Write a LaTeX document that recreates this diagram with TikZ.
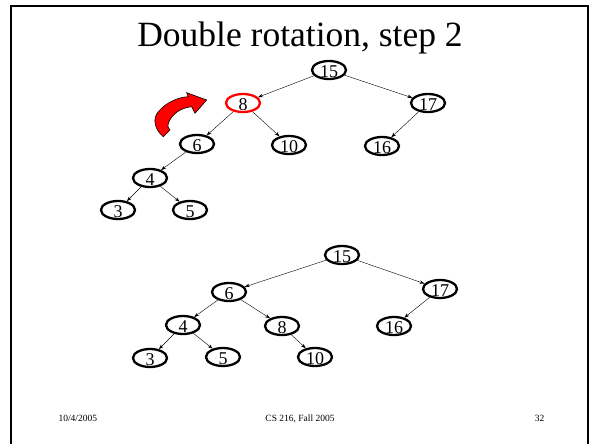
\documentclass[tikz,border=0pt]{standalone}
\usepackage{fontspec}
\setmainfont{Liberation Serif}
\usetikzlibrary{shapes.geometric,arrows.meta}
\newcommand{\lowtxt}[1]{\smash{\raisebox{-1.5pt}{#1}}}
\begin{document}
\begin{tikzpicture}[x=1pt,y=-1pt,
  tnode/.style={ellipse,draw=black,line width=2.3pt,minimum width=34pt,minimum height=18pt,inner sep=0pt,text height=12pt,text depth=0pt,font=\fontsize{18}{18}\selectfont},
  rednode/.style={tnode,draw=red},
  edge/.style={line width=0.4pt,-{Stealth[length=5pt,width=3.5pt]}},
  foot/.style={font=\fontsize{9.5}{10}\selectfont,anchor=base}]
\useasboundingbox (0,0) rectangle (600,444);
% frame
\draw[line width=2pt] (11,444) -- (11,6) -- (588,6) -- (588,444);
% title
\node[font=\fontsize{35.5}{36}\selectfont,anchor=base] (title) at (300,47) {Double rotation, step 2};
% top tree
\node[tnode] (a15) at (329,70) {\lowtxt{15}};
\node[rednode] (a8) at (243,103) {\lowtxt{8}};
\node[tnode] (a17) at (428,103) {\lowtxt{17}};
\node[tnode] (a6) at (197,144) {\lowtxt{6}};
\node[tnode] (a10) at (289,145) {\lowtxt{10}};
\node[tnode] (a16) at (382,146) {\lowtxt{16}};
\node[tnode] (a4) at (150,178) {\lowtxt{4}};
\node[tnode] (a3) at (118,210) {\lowtxt{3}};
\node[tnode] (a5) at (190,210) {\lowtxt{5}};
\draw[edge] (a15) -- (a8);
\draw[edge] (a15) -- (a17);
\draw[edge] (a8) -- (a6);
\draw[edge] (a8) -- (a10);
\draw[edge] (a17) -- (a16);
\draw[edge] (a6) -- (a4);
\draw[edge] (a4) -- (a3);
\draw[edge] (a4) -- (a5);
% red curved arrow
\draw[fill=red,draw=black,line width=0.6pt]
  (163.3,136.7) .. controls (155,130) and (151,118) .. (160,110)
  .. controls (166,103) and (178,97) .. (188.3,96.7)
  -- (186.7,92.7) -- (206.7,100) -- (195,113.3) -- (191.7,106.7)
  .. controls (180,108) and (172,114) .. (168.3,123.3)
  .. controls (167,126) and (168,128) .. (170,130) -- cycle;
% bottom tree
\node[tnode] (b15) at (342,255) {\lowtxt{15}};
\node[tnode] (b6) at (229,292) {\lowtxt{6}};
\node[tnode] (b17) at (440,289) {\lowtxt{17}};
\node[tnode] (b4) at (183,325) {\lowtxt{4}};
\node[tnode] (b8) at (282,326) {\lowtxt{8}};
\node[tnode] (b16) at (394,326) {\lowtxt{16}};
\node[tnode] (b3) at (150,358) {\lowtxt{3}};
\node[tnode] (b5) at (223,357) {\lowtxt{5}};
\node[tnode] (b10) at (315,357) {\lowtxt{10}};
\draw[edge] (b15) -- (b6);
\draw[edge] (b15) -- (b17);
\draw[edge] (b6) -- (b4);
\draw[edge] (b6) -- (b8);
\draw[edge] (b17) -- (b16);
\draw[edge] (b4) -- (b3);
\draw[edge] (b4) -- (b5);
\draw[edge] (b8) -- (b10);
% footer
\node[foot,anchor=base west] (date) at (55,421) {10/4/2005};
\node[foot] (course) at (300,421) {CS 216, Fall 2005};
\node[foot,anchor=base east] (page) at (548,421) {32};
\end{tikzpicture}
\end{document}
